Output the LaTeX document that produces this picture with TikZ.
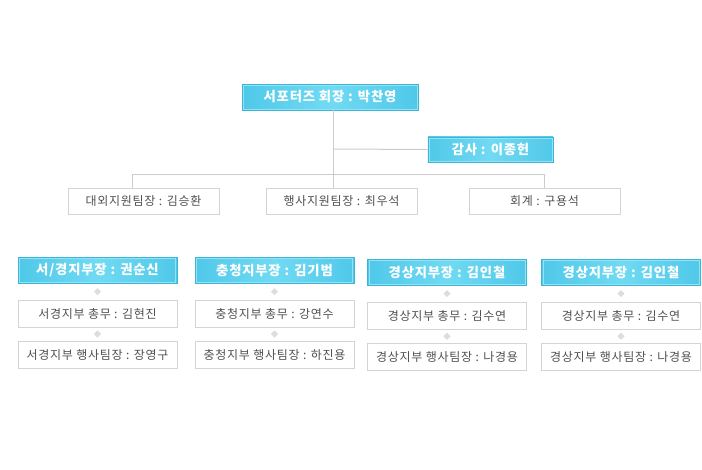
\documentclass[tikz,border=0pt]{standalone}
\usepackage{fontspec}
\usepackage{tikz}
\usetikzlibrary{shapes.geometric,calc}
\newfontfamily\kr[LetterSpace=6]{Noto Sans CJK KR}
\definecolor{headedge}{RGB}{58,181,216}
\definecolor{headside}{RGB}{80,200,233}
\definecolor{headmid}{RGB}{112,218,243}
\definecolor{headinner}{RGB}{150,226,245}
\definecolor{staffedge}{RGB}{212,212,212}
\definecolor{stafftext}{RGB}{80,80,80}
\definecolor{linkgray}{RGB}{204,204,204}
\definecolor{markgray}{RGB}{221,221,221}

\tikzset{
  headbox/.style={draw=headedge, rectangle, left color=headside, right color=headside, middle color=headmid,
    text=white, font=\kr\bfseries\fontsize{10pt}{12pt}\selectfont, inner sep=0pt,
    path picture={\draw[headinner] ([shift={(0.9pt,-0.9pt)}]path picture bounding box.north west)
      rectangle ([shift={(-0.9pt,0.9pt)}]path picture bounding box.south east);}},
  staffbox/.style={draw=staffedge, rectangle, fill=white, text=stafftext,
    font=\kr\fontsize{9pt}{11pt}\selectfont, inner sep=0pt, minimum width=113pt, minimum height=19.5pt},
  unitbox/.style={staffbox, minimum width=119pt, minimum height=20pt},
  marker/.style={diamond, fill=markgray, inner sep=0pt, minimum size=5.5pt},
  link/.style={draw=linkgray, line width=0.75pt}
}

\begin{document}
\begin{tikzpicture}[x=0.75pt, y=-0.75pt]
  \useasboundingbox (0,0) rectangle (702,469);

  % top
  \node[headbox, minimum width=132pt, minimum height=19.5pt] (pres) at (330,97) {서포터즈 회장 : 박찬영};
  \node[headbox, minimum width=94pt, minimum height=19pt] (audit) at (490.5,149.5) {감사 : 이종헌};
  \node[staffbox] (ext) at (143.5,201) {대외지원팀장 : 김승환};
  \node[staffbox] (event) at (341.5,201) {행사지원팀장 : 최우석};
  \node[staffbox] (acct) at (544.5,201) {회계 : 구용석};

  \coordinate (hub) at (333,174);
  \coordinate (tap) at (333,149);
  \coordinate (dropL) at (132,174);
  \coordinate (dropR) at (544,174);
  \draw[link] (pres.south -| hub) -- (hub);
  \draw[link] (tap) -- (audit.west);
  \draw[link] (dropL) -- (dropR);
  \draw[link] (dropL) -- (dropL |- ext.north);
  \draw[link] (hub) -- (hub |- event.north);
  \draw[link] (dropR) -- (dropR |- acct.north);

  % branches
  \node[headbox, minimum width=119pt, minimum height=19.5pt] (west) at (97.5,270) {서/경지부장 : 권순신};
  \node[headbox, minimum width=119pt, minimum height=19.5pt] (chung) at (274.5,270) {충청지부장 : 김기범};
  \node[headbox, minimum width=119pt, minimum height=19.5pt] (gyeongA) at (447,272) {경상지부장 : 김인철};
  \node[headbox, minimum width=119pt, minimum height=19.5pt] (gyeongB) at (621,272) {경상지부장 : 김인철};

  \node[unitbox] (westGen) at (97.5,313.5) {서경지부 총무 : 김현진};
  \node[unitbox] (westEvt) at (97.5,354.5) {서경지부 행사팀장 : 장영구};
  \node[unitbox] (chungGen) at (274.5,313.5) {충청지부 총무 : 강연수};
  \node[unitbox] (chungEvt) at (274.5,354.5) {충청지부 행사팀장 : 하진용};
  \node[unitbox] (gyeongAGen) at (447,315.5) {경상지부 총무 : 김수연};
  \node[unitbox] (gyeongAEvt) at (447,357) {경상지부 행사팀장 : 나경용};
  \node[unitbox] (gyeongBGen) at (621,315.5) {경상지부 총무 : 김수연};
  \node[unitbox] (gyeongBEvt) at (621,357) {경상지부 행사팀장 : 나경용};

  \node[marker] (westM1) at ($(west.south)!0.5!(westGen.north)$) {};
  \node[marker] (westM2) at ($(westGen.south)!0.5!(westEvt.north)$) {};
  \node[marker] (chungM1) at ($(chung.south)!0.5!(chungGen.north)$) {};
  \node[marker] (chungM2) at ($(chungGen.south)!0.5!(chungEvt.north)$) {};
  \node[marker] (gyeongAM1) at ($(gyeongA.south)!0.5!(gyeongAGen.north)$) {};
  \node[marker] (gyeongAM2) at ($(gyeongAGen.south)!0.5!(gyeongAEvt.north)$) {};
  \node[marker] (gyeongBM1) at ($(gyeongB.south)!0.5!(gyeongBGen.north)$) {};
  \node[marker] (gyeongBM2) at ($(gyeongBGen.south)!0.5!(gyeongBEvt.north)$) {};
\end{tikzpicture}
\end{document}
